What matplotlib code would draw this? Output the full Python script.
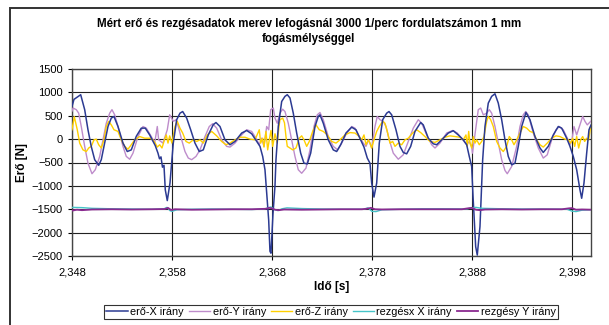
import matplotlib
matplotlib.use("Agg")
import matplotlib.pyplot as plt
from matplotlib.patches import Rectangle

plt.rcParams['font.family'] = ['Liberation Sans', 'DejaVu Sans']

# (time [s], value) pairs
ero_x = [(2.3480, 700), (2.3482, 850), (2.34887, 950), (2.34927, 630), (2.3496, 200),
         (2.34993, -160), (2.35027, -440), (2.35067, -560), (2.35093, -440), (2.35127, -85),
         (2.3516, 270), (2.35193, 450), (2.3522, 485), (2.3526, 270), (2.3531, -85),
         (2.35353, -265), (2.35393, -230), (2.35443, 60), (2.35493, 235), (2.35533, 235),
         (2.35577, 90), (2.35633, -140), (2.3566, -300), (2.35675, -420), (2.3569, -380),
         (2.35705, -600), (2.3572, -560), (2.35733, -1085), (2.35753, -1315), (2.3578, -940),
         (2.35813, -85), (2.35847, 415), (2.3588, 555), (2.35907, 590), (2.35947, 450),
         (2.35987, 200), (2.3603, -85), (2.36073, -265), (2.36113, -230), (2.36163, 90),
         (2.36213, 310), (2.3624, 355), (2.3628, 270), (2.3633, -15), (2.3638, -120),
         (2.3643, -50), (2.36497, 130), (2.36547, 185), (2.36597, 115), (2.36647, -50),
         (2.3668, -155), (2.36707, -370), (2.3673, -655), (2.36747, -1155), (2.36767, -1730),
         (2.3678, -2400), (2.3679, -2440), (2.3681, -1600), (2.3683, -1000), (2.3684, -440),
         (2.36863, 270), (2.36897, 805), (2.3693, 915), (2.36953, 950), (2.3698, 880),
         (2.37013, 555), (2.37047, 130), (2.37087, -300), (2.3712, -515), (2.37153, -530),
         (2.37187, -300), (2.3723, 270), (2.37263, 485), (2.3728, 520), (2.37313, 340),
         (2.37363, -15), (2.37413, -230), (2.37447, -265), (2.37487, -120), (2.3754, 130),
         (2.37597, 255), (2.3764, 200), (2.37687, -15), (2.3772, -170), (2.37753, -405),
         (2.3778, -515), (2.37797, -940), (2.3782, -1240), (2.37847, -940), (2.37873, -85),
         (2.37907, 415), (2.37947, 555), (2.3797, 590), (2.37997, 520), (2.3804, 200),
         (2.3808, -155), (2.38113, -285), (2.38147, -315), (2.38187, -155), (2.3823, 165),
         (2.38287, 355), (2.38313, 305), (2.38363, 20), (2.38413, -100), (2.38447, -120),
         (2.38497, -15), (2.38563, 130), (2.38613, 180), (2.38663, 90), (2.38713, -15),
         (2.38747, -120), (2.38773, -370), (2.38797, -585), (2.3881, -1200), (2.38837, -2300),
         (2.38853, -2480), (2.3888, -1870), (2.38907, -440), (2.3893, 270), (2.38963, 770),
         (2.38997, 915), (2.3903, 970), (2.39063, 770), (2.39097, 415), (2.3913, -15),
         (2.39163, -370), (2.39197, -550), (2.3923, -515), (2.39263, -155), (2.39297, 270),
         (2.3934, 570), (2.3938, 415), (2.3943, 55), (2.3948, -190), (2.39513, -285),
         (2.39563, -155), (2.39613, 90), (2.39663, 270), (2.39697, 235), (2.39747, 20),
         (2.3978, -155), (2.39813, -370), (2.39847, -655), (2.3988, -1085), (2.39897, -1265),
         (2.3992, -940), (2.39947, -300), (2.3997, 200), (2.3999, 300)]

ero_y = [(2.3480, 600), (2.3481, 665), (2.34843, 630), (2.34867, 555), (2.34893, 270),
         (2.34927, -155), (2.3496, -515), (2.3500, -740), (2.35033, -655), (2.35077, -370),
         (2.3511, -15), (2.35143, 340), (2.35177, 555), (2.3520, 630), (2.35227, 520),
         (2.3526, 270), (2.3531, -155), (2.35343, -370), (2.35377, -430), (2.3541, -300),
         (2.3546, 55), (2.3551, 270), (2.35543, 235), (2.35593, 55), (2.35627, -85),
         (2.35653, 270), (2.35667, -15), (2.3571, -85), (2.35753, 200), (2.35777, 520),
         (2.35813, 380), (2.3584, 415), (2.35863, 270), (2.35897, -15), (2.3593, -265),
         (2.35963, -405), (2.35997, -440), (2.3604, -370), (2.3608, -230), (2.3613, 55),
         (2.36173, 270), (2.36207, 330), (2.36247, 235), (2.36297, -15), (2.36347, -155),
         (2.3638, -170), (2.3643, -85), (2.36497, 90), (2.36547, 200), (2.36597, 165),
         (2.3664, 20), (2.36673, -120), (2.36697, 20), (2.3672, -155), (2.36747, 270),
         (2.36767, 200), (2.36787, 630), (2.36813, 665), (2.3683, 450), (2.36853, 340),
         (2.3688, 555), (2.36907, 640), (2.3693, 590), (2.36963, 340), (2.36997, -15),
         (2.3703, -370), (2.37063, -655), (2.37097, -730), (2.3714, -620), (2.3718, -230),
         (2.3722, 270), (2.37253, 520), (2.3728, 570), (2.37313, 415), (2.37363, 55),
         (2.37413, -155), (2.37457, -230), (2.37497, -85), (2.37547, 130), (2.37597, 270),
         (2.3763, 235), (2.37673, 55), (2.37713, -85), (2.3774, -155), (2.37767, -15),
         (2.37797, -190), (2.3783, 270), (2.37853, 485), (2.3788, 415), (2.37913, 380),
         (2.3794, 270), (2.37973, -15), (2.38013, -300), (2.38063, -430), (2.38113, -335),
         (2.38163, -50), (2.38213, 235), (2.38263, 415), (2.38297, 340), (2.38347, 90),
         (2.38397, -120), (2.3843, -190), (2.3848, -85), (2.38547, 130), (2.38607, 185),
         (2.38653, 130), (2.38707, -15), (2.38747, -120), (2.38773, -50), (2.38797, -155),
         (2.38805, -300), (2.3884, 270), (2.38863, 630), (2.38887, 665), (2.38913, 520),
         (2.38947, 555), (2.38973, 630), (2.38997, 555), (2.3903, 270), (2.39063, -85),
         (2.39097, -440), (2.3913, -670), (2.39153, -740), (2.39197, -585), (2.39247, -155),
         (2.3928, 270), (2.39313, 520), (2.39337, 590), (2.39363, 520), (2.39413, 130),
         (2.39463, -190), (2.39513, -405), (2.39553, -335), (2.39597, -15), (2.3964, 200),
         (2.39673, 270), (2.39713, 200), (2.39753, 20), (2.3978, -120), (2.3980, -15),
         (2.3982, 270), (2.39847, 90), (2.3988, 305), (2.39907, 485), (2.3993, 380),
         (2.39953, 305), (2.39987, 380)]

ero_z = [(2.3480, 200), (2.34823, 480), (2.34853, 200), (2.34877, -85), (2.3491, -230),
         (2.34943, -265), (2.34967, -190), (2.34993, -155), (2.3502, -15), (2.35043, 0),
         (2.35067, -120), (2.35093, -190), (2.3512, -15), (2.35143, 270), (2.35167, 380),
         (2.35193, 305), (2.3522, 200), (2.3526, 165), (2.35293, -15), (2.35327, -155),
         (2.3536, -215), (2.35393, -120), (2.35427, -15), (2.35477, 55), (2.35527, 20),
         (2.35577, 20), (2.3561, -15), (2.35633, -85), (2.35653, -170), (2.35677, -120),
         (2.3570, -190), (2.3572, -50), (2.35743, 90), (2.3576, -85), (2.35777, 70),
         (2.3580, -85), (2.3583, 270), (2.35853, 380), (2.3588, 235), (2.35907, 130),
         (2.3594, -50), (2.35973, -85), (2.36013, -15), (2.36047, -50), (2.3608, -15),
         (2.36113, -85), (2.36153, 90), (2.36197, 165), (2.36247, 70), (2.36297, -50),
         (2.3634, -120), (2.3638, -85), (2.3643, -15), (2.3648, 40), (2.3653, 40),
         (2.3658, 0), (2.3663, -15), (2.36673, 200), (2.36687, -85), (2.36707, 20),
         (2.3672, -170), (2.3674, 165), (2.36757, -230), (2.36773, -15), (2.3679, 185),
         (2.36807, -155), (2.3683, 115), (2.36853, -85), (2.3687, 270), (2.3688, 415),
         (2.36907, 450), (2.36925, 350), (2.3694, 55), (2.36953, -155), (2.3698, -190),
         (2.37007, -230), (2.3704, -190), (2.37073, 20), (2.37097, 70), (2.3712, -15),
         (2.37147, -155), (2.37173, -50), (2.37207, 165), (2.3724, 305), (2.37273, 200),
         (2.37313, 165), (2.37353, 90), (2.37397, -50), (2.3744, -85), (2.3748, -15),
         (2.3753, 90), (2.3758, 140), (2.3763, 130), (2.37673, 55), (2.37697, -15),
         (2.3772, 90), (2.3774, -120), (2.37763, -15), (2.3778, -85), (2.37797, -190),
         (2.3782, -15), (2.37847, 165), (2.37873, 270), (2.37907, 380), (2.3793, 340),
         (2.37953, 165), (2.3798, -85), (2.38007, -50), (2.3803, -155), (2.38063, -85),
         (2.38097, -120), (2.3813, -15), (2.38163, 20), (2.38207, 130), (2.38247, 200),
         (2.38287, 140), (2.3833, 55), (2.3838, -50), (2.3843, -70), (2.3848, -15),
         (2.3853, 40), (2.3858, 70), (2.3863, 55), (2.3868, 40), (2.38713, -15),
         (2.3874, 90), (2.38753, -155), (2.38767, 165), (2.3878, -85), (2.38797, -190),
         (2.38813, 55), (2.3883, -85), (2.38847, -15), (2.38873, -120), (2.38897, -50),
         (2.3892, 55), (2.38947, 380), (2.38963, 485), (2.38987, 415), (2.39013, 270),
         (2.39047, -50), (2.3908, -190), (2.39113, -265), (2.39147, -155), (2.39173, 55),
         (2.39197, -15), (2.3922, -120), (2.39247, -15), (2.3928, 130), (2.39313, 270),
         (2.39347, 235), (2.3938, 165), (2.39413, 140), (2.39447, -15), (2.3948, -120),
         (2.39513, -170), (2.39553, -85), (2.39597, 20), (2.3964, 70), (2.3968, 55),
         (2.3973, 0), (2.39763, -15), (2.39787, -85), (2.39807, 20), (2.39827, -155),
         (2.39847, 55), (2.39867, -190), (2.39887, -15), (2.39907, 55), (2.39927, -50),
         (2.39947, 20), (2.39967, -15), (2.39987, 270)]

rezges_x = [(2.348, -1460), (2.349, -1465), (2.350, -1480), (2.352, -1490), (2.354, -1495),
            (2.356, -1500), (2.3572, -1490), (2.3575, -1460), (2.3578, -1530), (2.358, -1545),
            (2.3585, -1510), (2.360, -1500), (2.362, -1495), (2.364, -1500), (2.366, -1505),
            (2.3672, -1495), (2.3676, -1470), (2.3679, -1450), (2.3682, -1500), (2.3686, -1530),
            (2.369, -1490), (2.3695, -1470), (2.371, -1485), (2.373, -1495), (2.375, -1500),
            (2.3772, -1500), (2.3776, -1470), (2.378, -1545), (2.3784, -1550), (2.379, -1510),
            (2.381, -1500), (2.383, -1490), (2.385, -1490), (2.3875, -1495), (2.3879, -1470),
            (2.3884, -1460), (2.389, -1480), (2.391, -1490), (2.393, -1495), (2.395, -1495),
            (2.3975, -1500), (2.398, -1540), (2.3984, -1550), (2.399, -1520), (2.3999, -1510)]

rezges_y = [(2.348, -1530), (2.3485, -1510), (2.349, -1520), (2.350, -1505), (2.352, -1500),
            (2.354, -1505), (2.356, -1500), (2.3573, -1495), (2.3576, -1470), (2.3579, -1515),
            (2.3583, -1500), (2.360, -1510), (2.362, -1505), (2.364, -1500), (2.366, -1500),
            (2.3674, -1490), (2.3677, -1470), (2.368, -1480), (2.3683, -1510), (2.3687, -1520),
            (2.3692, -1505), (2.371, -1510), (2.373, -1505), (2.375, -1500), (2.377, -1500),
            (2.3776, -1485), (2.3779, -1470), (2.3783, -1500), (2.379, -1505), (2.381, -1500),
            (2.383, -1500), (2.385, -1500), (2.387, -1500), (2.3876, -1480), (2.388, -1470),
            (2.3884, -1510), (2.3888, -1520), (2.3893, -1505), (2.391, -1500), (2.393, -1505),
            (2.395, -1500), (2.397, -1500), (2.3977, -1480), (2.398, -1475), (2.3984, -1510),
            (2.399, -1505), (2.3999, -1510)]

series_names = ['erő-X irány', 'erő-Y irány', 'erő-Z irány', 'rezgésx X irány', 'rezgésy Y irány']
x_ticks = [2.348, 2.358, 2.368, 2.378, 2.388, 2.398]
y_ticks = [-2500, -2000, -1500, -1000, -500, 0, 500, 1000, 1500]

fig = plt.figure(figsize=(6.09, 3.25), dpi=100)
ax = fig.add_axes([0.1182, 0.2123, 0.8522, 0.5754])

series = [ero_x, ero_y, ero_z, rezges_x, rezges_y]
colors = ['#2B3A92', '#BE8CCB', '#FFD000', '#45C4C8', '#8A2A90']
zorders = [5, 3, 4, 6, 7]
widths = [1.1, 1.0, 1.0, 1.0, 1.3]
for data, name, c, z, w in zip(series, series_names, colors, zorders, widths):
    t, v = zip(*data)
    ax.plot(t, v, color=c, lw=w, label=name, zorder=z)

ax.set_xlim(2.348, 2.3999)
ax.set_ylim(-2500, 1500)
ax.set_xticks(x_ticks)
ax.set_xticklabels([('%.3f' % x).replace('.', ',') for x in x_ticks])
ax.set_yticks(y_ticks)
ax.tick_params(labelsize=8, length=3, width=0.8, color='black')
ax.tick_params(axis='x', pad=5)
ax.grid(True, color='#222222', lw=0.8, zorder=1)
ax.set_axisbelow(True)
for s in ax.spines.values():
    s.set_color('#444444')
    s.set_linewidth(1.0)

ax.set_xlabel('Idő [s]', fontsize=8.5, fontweight='bold', labelpad=3)
ax.set_ylabel('Erő [N]', fontsize=8.5, fontweight='bold')
ax.yaxis.set_label_coords(-0.085, 0.5)

fig.text(0.507, 0.903, 'Mért erő és rezgésadatok merev lefogásnál 3000 1/perc fordulatszámon 1 mm\nfogásmélységgel',
         ha='center', va='center', fontsize=8.3, fontweight='bold', linespacing=1.25)

leg = fig.legend(loc='center', bbox_to_anchor=(0.5435, 0.04), ncol=5, fontsize=7.8,
                 frameon=True, fancybox=False, edgecolor='black', borderpad=0.2,
                 handlelength=2.0, handletextpad=0.2, columnspacing=0.45)
leg.get_frame().set_linewidth(0.8)

# outer chart area border (cut off at right and bottom)
fig.add_artist(Rectangle((10 / 609, -0.2), 1.2, 0.2 + (325 - 8) / 325, transform=fig.transFigure,
                         fill=False, edgecolor='#333333', lw=1.4, clip_on=False))

fig.savefig('out.png', dpi=100)
